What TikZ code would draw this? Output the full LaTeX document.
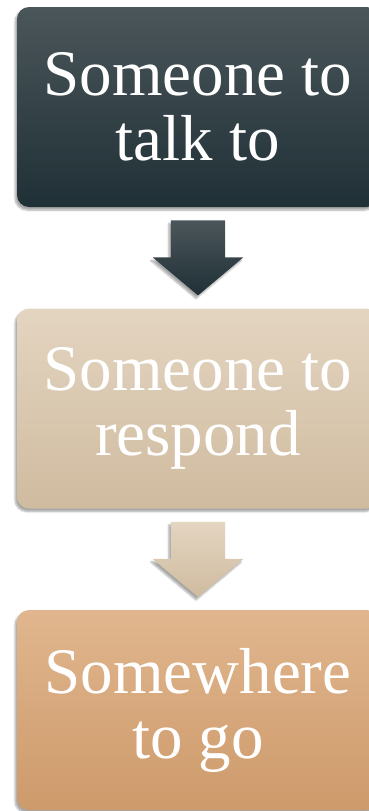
\documentclass[tikz,border=0pt]{standalone}
\usepackage{fontspec}
\setmainfont{Liberation Serif}
\usetikzlibrary{positioning,shapes.arrows,shadows.blur}
\definecolor{slateTop}{HTML}{4B565A}
\definecolor{slateBot}{HTML}{1F3036}
\definecolor{sandTop}{HTML}{E4D5C1}
\definecolor{sandBot}{HTML}{CFBB9F}
\definecolor{clayTop}{HTML}{E1B68E}
\definecolor{clayBot}{HTML}{CD9A6B}
\begin{document}
\begin{tikzpicture}[
  node distance=301.5pt,
  box/.style={rounded corners=12pt, align=center, text=white, minimum width=362pt, minimum height=200pt,
    font=\fontsize{65}{65}\selectfont,
    blur shadow={shadow xshift=-2pt, shadow yshift=-3pt, shadow blur steps=6, shadow opacity=35}},
  downarrow/.style={single arrow, shape border rotate=270, single arrow head extend=18pt,
    single arrow tip angle=100, minimum width=90pt, minimum height=75pt, inner sep=0pt, anchor=tail,
    blur shadow={shadow xshift=-2pt, shadow yshift=-3pt, shadow blur steps=6, shadow opacity=35}}
]
\useasboundingbox (0,0) rectangle (368pt,-811pt);
\node[box, top color=slateTop, bottom color=slateBot] (talk) at (198pt,-107pt) {Someone to\\talk to};
\node[box, top color=sandTop, bottom color=sandBot, below of=talk] (respond) {Someone to\\respond};
\node[box, top color=clayTop, bottom color=clayBot, below of=respond] (go) {Somewhere\\to go};
\node[downarrow, top color=slateTop, bottom color=slateBot] (arr1) at ($(talk.south)+(0,-13pt)$) {\rule{54pt}{0pt}};
\node[downarrow, top color=sandTop, bottom color=sandBot] (arr2) at ($(respond.south)+(0,-13pt)$) {\rule{54pt}{0pt}};
\end{tikzpicture}
\end{document}
